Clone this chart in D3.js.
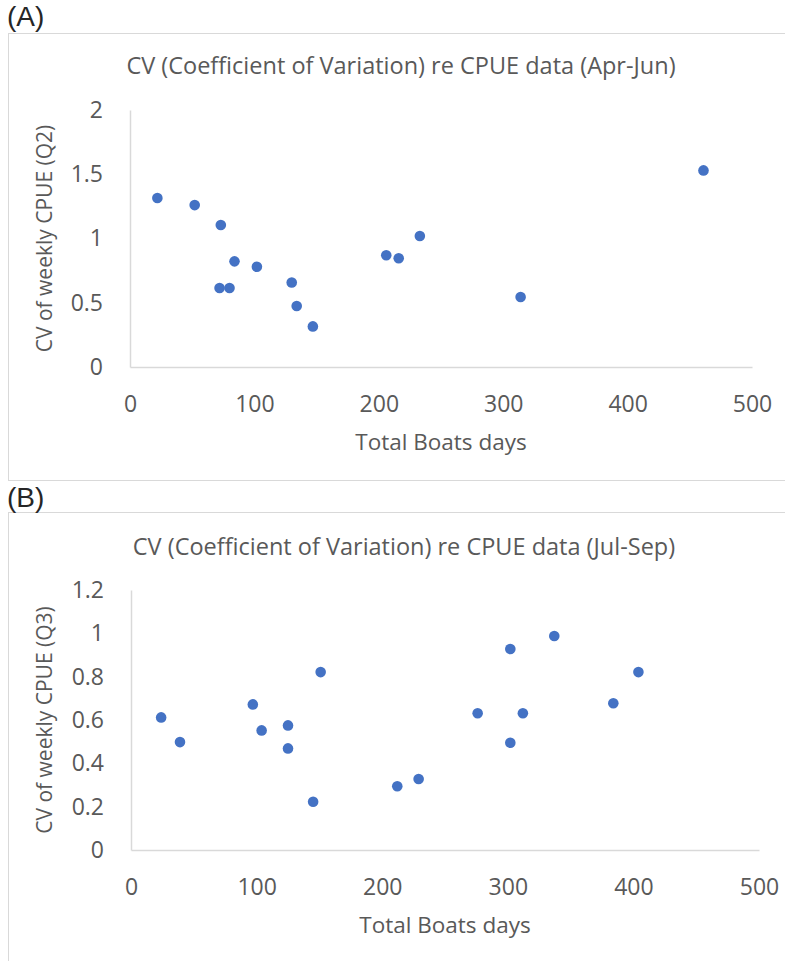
<!DOCTYPE html>
<html>
<head>
<meta charset="utf-8">
<script src="https://cdn.jsdelivr.net/npm/d3@7"></script>
<style>
  body { margin: 0; background: #fff; }
  svg { display: block; }
  .tick text { font-family: "Open Sans", sans-serif; fill: #595959; }
</style>
</head>
<body>
<svg width="785" height="961"></svg>
<script>
// (A) Apr-Jun
var aprJunBoatDays = [22, 52, 73, 84, 102, 72, 80, 130, 134, 147, 206, 216, 233, 314, 461];
var aprJunCV = [1.315, 1.26, 1.105, 0.822, 0.78, 0.615, 0.615, 0.658, 0.475, 0.316, 0.87, 0.846, 1.02, 0.545, 1.53];
var aprJunYTicks = [0, 0.5, 1, 1.5, 2];

// (B) Jul-Sep
var julSepBoatDays = [24, 39, 97, 104, 125, 125, 145, 151, 212, 229, 276, 302, 302, 312, 337, 384, 404];
var julSepCV = [0.612, 0.498, 0.672, 0.552, 0.575, 0.469, 0.223, 0.821, 0.294, 0.328, 0.631, 0.495, 0.928, 0.631, 0.988, 0.677, 0.821];
var julSepYTicks = [0, 0.2, 0.4, 0.6, 0.8, 1, 1.2];

var xTicks = [0, 100, 200, 300, 400, 500];

var svg = d3.select("svg");

function panel(opt) {
  var g = svg.append("g");

  // chart frame
  g.append("rect")
    .attr("x", 8.5).attr("y", opt.boxTop + 0.5)
    .attr("width", 800).attr("height", opt.boxBottom - opt.boxTop)
    .style("fill", "none").style("stroke", "#d9d9d9").style("stroke-width", "1px");

  g.append("text")
    .attr("x", 7).attr("y", opt.labelY)
    .style("font-family", "'Liberation Sans', Arial, sans-serif")
    .style("font-size", "28px").style("fill", "#262626")
    .text(opt.label);

  g.append("text")
    .attr("x", opt.titleX).attr("y", opt.titleY)
    .attr("text-anchor", "middle")
    .style("font-family", "'Open Sans', sans-serif")
    .style("font-size", "23.5px").style("fill", "#595959")
    .text(opt.title);

  var x = d3.scaleLinear().domain([0, 500]).range([opt.left, opt.right]);
  var y = d3.scaleLinear().domain([0, d3.max(opt.yTicks)]).range([opt.bottom, opt.top]);

  var xAxis = g.append("g")
    .attr("transform", "translate(0," + opt.bottom + ")")
    .call(d3.axisBottom(x).tickValues(xTicks).tickSize(0).tickPadding(29).tickFormat(d3.format("d")));
  xAxis.select(".domain").style("stroke", "#d9d9d9").style("stroke-width", "1.5px");
  xAxis.selectAll(".tick text").style("font-size", "23px");

  var yAxis = g.append("g")
    .attr("transform", "translate(" + opt.left + ",0)")
    .call(d3.axisLeft(y).tickValues(opt.yTicks).tickSize(0).tickPadding(27).tickFormat(function(d) { return String(d); }));
  yAxis.select(".domain").style("stroke", "#d9d9d9").style("stroke-width", "1.5px");
  yAxis.selectAll(".tick text").style("font-size", "23px");

  g.append("text")
    .attr("x", (opt.left + opt.right) / 2).attr("y", opt.bottom + 83)
    .attr("text-anchor", "middle")
    .style("font-family", "'Open Sans', sans-serif")
    .style("font-size", "22.5px").style("fill", "#595959")
    .text("Total Boats days");

  g.append("text")
    .attr("transform", "translate(52," + (opt.top + opt.bottom) / 2 + ") rotate(-90)")
    .attr("text-anchor", "middle")
    .style("font-family", "'Open Sans', sans-serif")
    .style("font-size", "21px").style("fill", "#595959")
    .text(opt.yTitle);

  g.append("g").selectAll("circle")
    .data(opt.xs)
    .enter()
    .append("circle")
    .attr("cx", function(d) { return x(d); })
    .attr("cy", function(d, i) { return y(opt.ys[i]); })
    .attr("r", 5.3)
    .style("fill", "#4472c4");
}

panel({
  label: "(A)", labelY: 26, boxTop: 33, boxBottom: 480,
  title: "CV (Coefficient of Variation) re CPUE data (Apr-Jun)", titleX: 401, titleY: 74,
  left: 130, right: 752, top: 110, bottom: 367,
  yTicks: aprJunYTicks, yTitle: "CV of weekly CPUE (Q2)",
  xs: aprJunBoatDays, ys: aprJunCV
});

panel({
  label: "(B)", labelY: 507, boxTop: 512, boxBottom: 965,
  title: "CV (Coefficient of Variation) re CPUE data (Jul-Sep)", titleX: 404, titleY: 555,
  left: 131, right: 759, top: 590, bottom: 850,
  yTicks: julSepYTicks, yTitle: "CV of weekly CPUE (Q3)",
  xs: julSepBoatDays, ys: julSepCV
});
</script>
</body>
</html>
